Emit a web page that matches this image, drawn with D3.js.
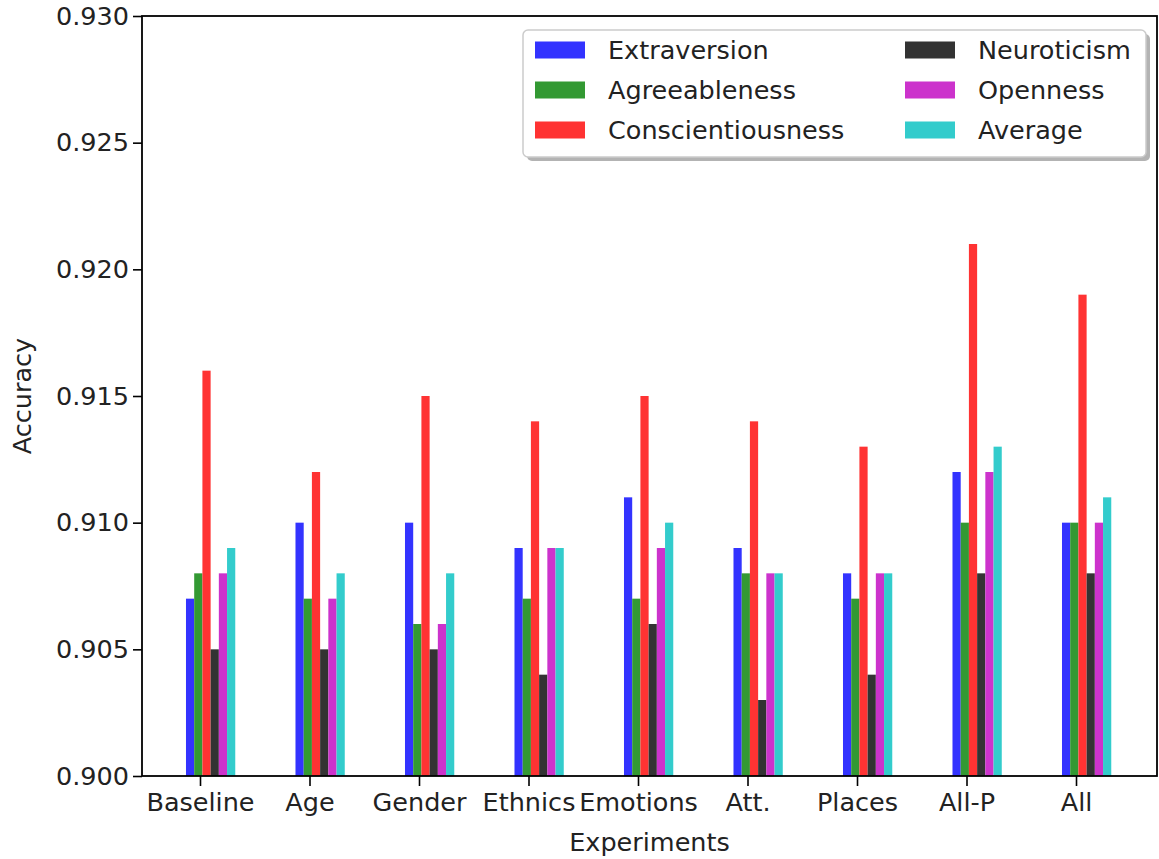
<!DOCTYPE html>
<html><head><meta charset="utf-8">
<script src="https://cdn.jsdelivr.net/npm/d3@7"></script>
<style>body{margin:0;background:#fff}svg{font-family:"DejaVu Sans",sans-serif}</style>
</head><body><svg id="c" width="1159" height="859"></svg>
<script>
const categories = ["Baseline","Age","Gender","Ethnics","Emotions","Att.","Places","All-P","All"];
const seriesNames = ["Extraversion","Agreeableness","Conscientiousness","Neuroticism","Openness","Average"];
const extraversion      = [0.907,0.910,0.910,0.909,0.911,0.909,0.908,0.912,0.910];
const agreeableness     = [0.908,0.907,0.906,0.907,0.907,0.908,0.907,0.910,0.910];
const conscientiousness = [0.916,0.912,0.915,0.914,0.915,0.914,0.913,0.921,0.919];
const neuroticism       = [0.905,0.905,0.905,0.904,0.906,0.903,0.904,0.908,0.908];
const openness          = [0.908,0.907,0.906,0.909,0.909,0.908,0.908,0.912,0.910];
const average           = [0.909,0.908,0.908,0.909,0.910,0.908,0.908,0.913,0.911];
const yTicks = [0.900,0.905,0.910,0.915,0.920,0.925,0.930];
const colors = ["#3333ff","#339933","#ff3333","#333333","#cc33cc","#33cccc"];
const seriesValues = [extraversion,agreeableness,conscientiousness,neuroticism,openness,average];

const svg = d3.select("#c");
const L=142, R=1157, T=16, B=776;
const x = d3.scaleLinear().domain([-0.5297, 8.7397]).range([L,R]);
const y = d3.scaleLinear().domain([0.900,0.930]).range([B,T]);
const bw = 0.075, off0 = -0.128;

const g = svg.append("g");
seriesValues.forEach((vals,si)=>{
  g.selectAll(null).data(vals).enter().append("rect")
    .attr("x",(d,i)=>x(i+off0+si*bw))
    .attr("width",x(bw)-x(0))
    .attr("y",d=>y(d))
    .attr("height",d=>y(0.900)-y(d))
    .attr("fill",colors[si]);
});

// axes
const fs = 25.5;
const xa = svg.append("g").attr("transform",`translate(0,${B})`)
  .call(d3.axisBottom(x).tickValues(d3.range(categories.length)).tickFormat(i=>categories[i]).tickSize(10).tickSizeOuter(0));
const ya = svg.append("g").attr("transform",`translate(${L},0)`)
  .call(d3.axisLeft(y).tickValues(yTicks).tickFormat(d3.format(".3f")).tickSize(9).tickSizeOuter(0));
[xa,ya].forEach(a=>{
  a.select(".domain").remove();
  a.selectAll(".tick line").attr("stroke","#000").attr("stroke-width",1.6);
  a.selectAll(".tick text").attr("font-size",fs).attr("fill","#222").attr("font-family","DejaVu Sans");
});
xa.selectAll(".tick text").attr("dy","1.05em").attr("y",8);
ya.selectAll(".tick text").attr("x",-13);

svg.append("rect").attr("x",L).attr("y",T).attr("width",R-L).attr("height",B-T)
  .attr("fill","none").attr("stroke","#000").attr("stroke-width",1.8);

svg.append("text").attr("x",(L+R)/2).attr("y",851).attr("text-anchor","middle")
  .attr("font-size",fs).attr("fill","#222").text("Experiments");
svg.append("text").attr("transform",`translate(31,${(T+B)/2}) rotate(-90)`).attr("text-anchor","middle")
  .attr("font-size",fs).attr("fill","#222").text("Accuracy");

// legend
const lg = svg.append("g");
lg.append("rect").attr("x",527).attr("y",34).attr("width",623).attr("height",127).attr("rx",5)
  .attr("fill","#b3b3b3");
lg.append("rect").attr("x",523).attr("y",30).attr("width",623).attr("height",127).attr("rx",5)
  .attr("fill","#fff").attr("stroke","#cccccc").attr("stroke-width",1.5);
const colX=[535,905], rowY=[50,90,130];
seriesNames.forEach((n,i)=>{
  const cx=colX[Math.floor(i/3)], cy=rowY[i%3];
  lg.append("rect").attr("x",cx).attr("y",cy-8.5).attr("width",50).attr("height",17).attr("fill",colors[i]);
  lg.append("text").attr("x",cx+73).attr("y",cy).attr("dy","0.36em").attr("font-size",fs).attr("fill","#222").text(n);
});
</script></body></html>
